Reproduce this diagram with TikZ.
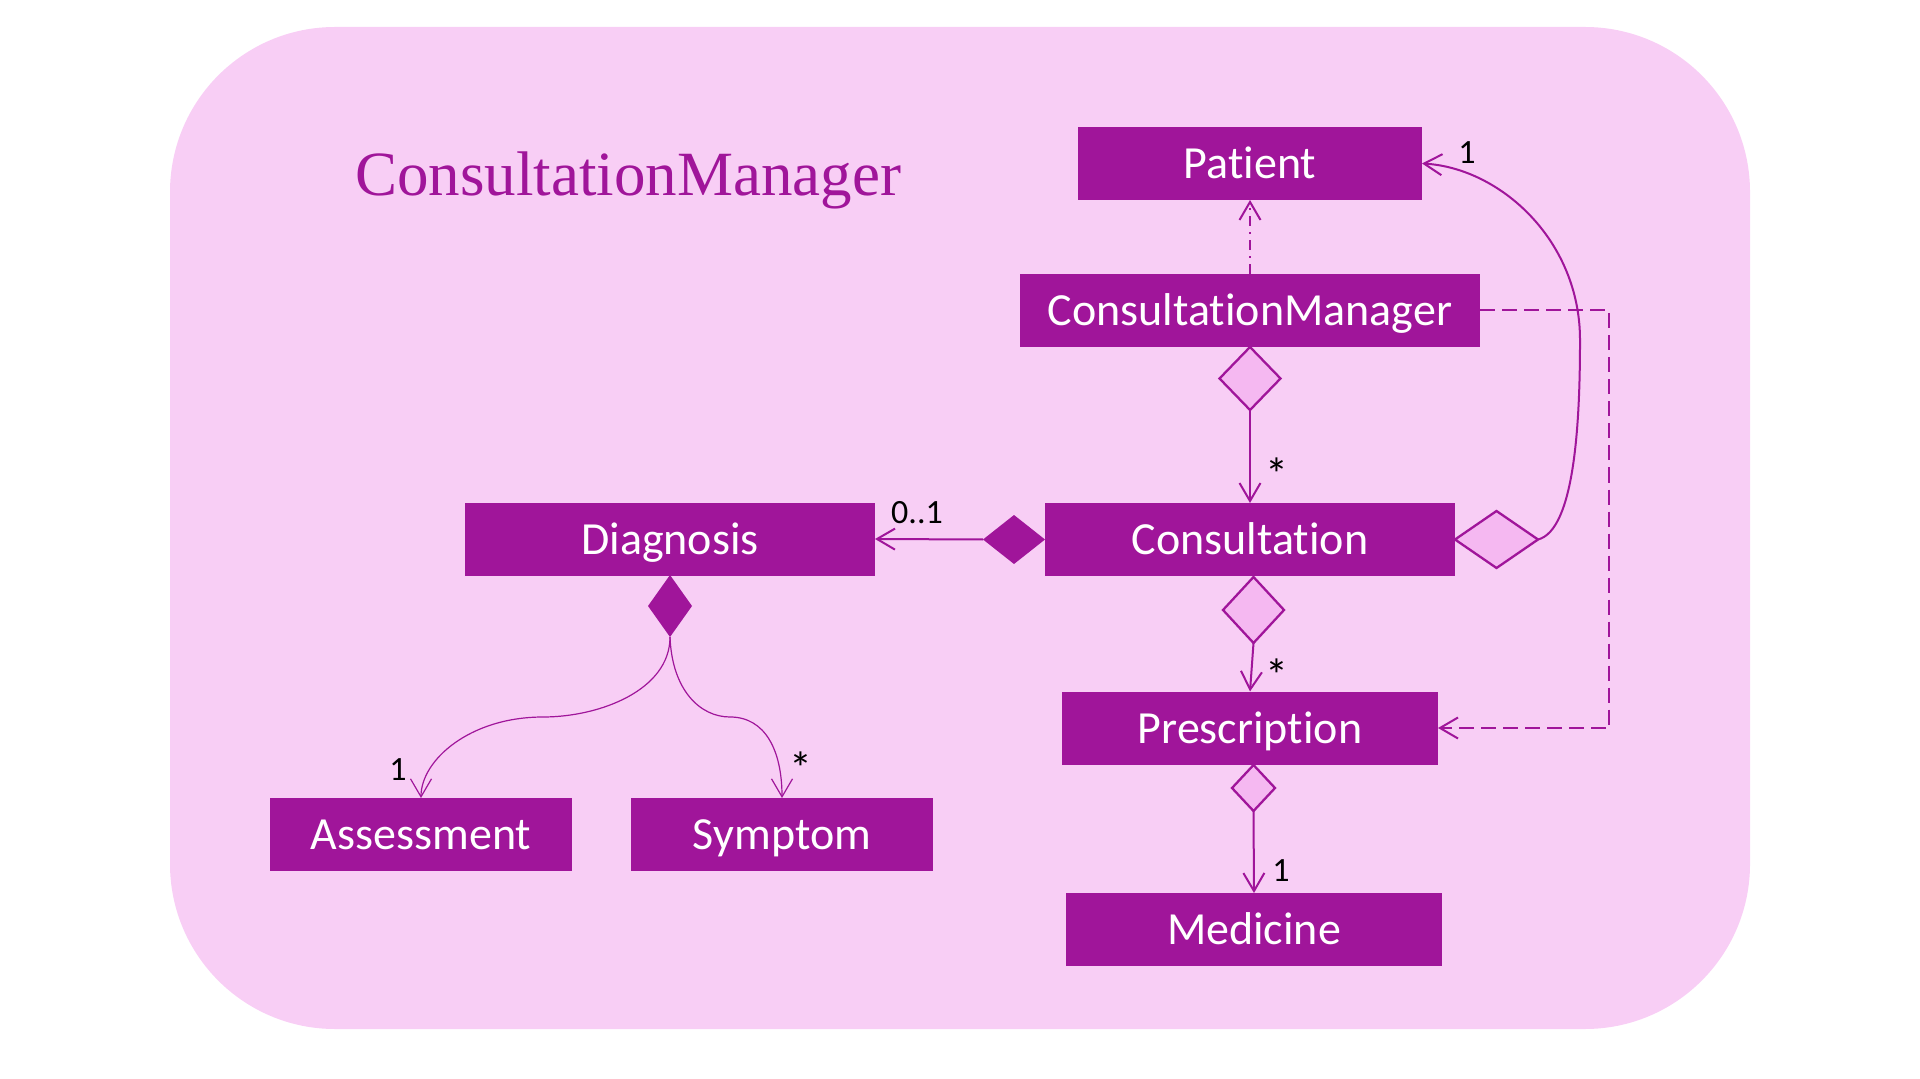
\documentclass[tikz,border=0pt]{standalone}
\usepackage{fontspec}
\setmainfont{Carlito}[Ligatures=NoCommon]
\newfontfamily\titlefont{Liberation Serif}
\usetikzlibrary{arrows.meta,shapes.geometric}
\definecolor{boxc}{RGB}{160,21,154}
\definecolor{bgc}{RGB}{248,206,245}
\definecolor{dfill}{RGB}{245,184,241}
\tikzset{
  cls/.style={rectangle, fill=boxc, text=white, inner sep=0pt, outer sep=0pt,
    text height=15pt, text depth=0pt,
    minimum height=36.5pt, font=\fontsize{23}{27}\selectfont},
  opend/.style={diamond, draw=boxc, fill=dfill, line width=1.15pt, inner sep=0pt, outer sep=0pt},
  filld/.style={diamond, fill=boxc, inner sep=0pt, outer sep=0pt},
  lbl/.style={inner sep=0pt, text=black, font=\fontsize{17}{20}\selectfont},
  star/.style={inner sep=0pt, text=black, font=\fontsize{23}{26}\selectfont},
  conn/.style={draw=boxc, line width=1pt, -{Straight Barb[length=9pt,width=10.5pt]}},
  thinconn/.style={draw=boxc, line width=0.6pt, -{Straight Barb[length=9pt,width=10.5pt]}},
}
\begin{document}
\begin{tikzpicture}[x=0.5pt,y=-0.5pt]
\useasboundingbox (0,0) rectangle (1920,1079);
\fill[bgc, rounded corners=82.5pt] (170,27) rectangle (1750,1029);
\node[anchor=base west, inner sep=0pt, text=boxc, font=\titlefont\fontsize{31.5}{36}\selectfont] (title) at (355,196) {ConsultationManager};

% classes
\node[cls, minimum width=172pt] (pat) at (1250,163.5) {Patient};
\node[cls, minimum width=230pt] (cm) at (1250,310.5) {ConsultationManager};
\node[cls, minimum width=205pt] (cons) at (1250,539.5) {Consultation};
\node[cls, minimum width=205pt] (diag) at (670,539) {Diagnosis};
\node[cls, minimum width=188pt] (pres) at (1250,728) {Prescription};
\node[cls, minimum width=188pt] (med) at (1254,929.5) {Medicine};
\node[cls, minimum width=151pt] (ass) at (421,834.5) {Assessment};
\node[cls, minimum width=151pt] (sym) at (782,834.5) {Symptom};

% diamonds
\node[opend, minimum width=30.5pt, minimum height=31.5pt] (dcm) at (1250,378.5) {};
\node[filld, minimum width=31pt, minimum height=24.5pt] (dcl) at (1014,539.5) {};
\node[opend, minimum width=41.5pt, minimum height=28.5pt] (dcr) at (1496.5,539.5) {};
\node[opend, minimum width=30.5pt, minimum height=33pt] (dcb) at (1253.5,610) {};
\node[opend, minimum width=21.5pt, minimum height=23pt] (dpr) at (1253.5,788) {};
\node[filld, minimum width=22pt, minimum height=31pt] (ddg) at (670,606) {};

% connectors
\draw[conn, dash pattern=on 5pt off 3pt on 1pt off 3pt] (cm.north) -- (pat.south);
\draw[conn] (dcm.south) -- (cons.north);
\draw[conn] (dcl.west) -- (diag.east);
\draw[conn] (dcr.east) .. controls (1575,530) and (1580,420) .. (1580,340)
   .. controls (1580,240) and (1500,168) .. (pat.east);
\draw[conn] (dcb.south) -- (pres.north);
\coordinate (dr) at (1609,310.5);
\draw[conn, dash pattern=on 7.5pt off 3.5pt] (cm.east) -- (dr) |- (pres.east);
\draw[conn] (dpr.south) -- (med.north);
\draw[thinconn] (ddg.south) .. controls (670,690) and (600,717) .. (543,717)
   .. controls (470,717) and (421,760) .. (ass.north);
\draw[thinconn] (ddg.south) .. controls (672,690) and (700,717) .. (730,717)
   .. controls (765,717) and (782,750) .. (sym.north);

% multiplicities
\node[lbl] (m1) at (1467,153) {1};
\node[star] (m2) at (1277,474) {*};
\node[lbl] (m3) at (917,513) {0..1};
\node[star] (m4) at (1277,675) {*};
\node[lbl] (m5) at (1281,871) {1};
\node[lbl] (m6) at (398,770) {1};
\node[star] (m7) at (801,768) {*};
\end{tikzpicture}
\end{document}
